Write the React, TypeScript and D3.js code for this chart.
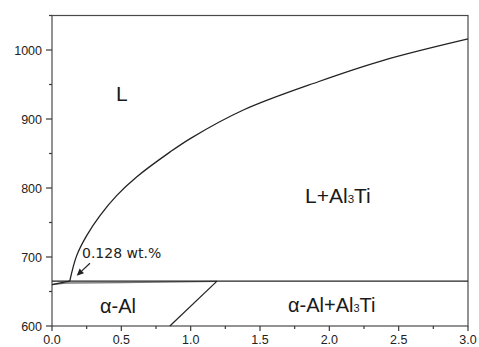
import React from "react";
import * as d3 from "d3";

// Al–Ti phase diagram, Al-rich corner (wt.% Ti vs temperature °C)
const liquidusX = [0.128, 0.178, 0.25, 0.346, 0.466, 0.61, 0.85, 1.0, 1.38, 1.92, 2.39, 3.0];
const liquidusT = [665, 702, 731, 760, 789, 816, 852, 872, 913, 954, 985, 1016];

const alLiquidusX = [0, 0.06, 0.128];
const alLiquidusT = [660, 662.5, 665];

const solidusX = [0, 0.1, 0.5, 1.19];
const solidusT = [660, 662.3, 662.8, 664.6];

const peritecticX = [0, 3.0];
const peritecticT = [665, 665];

const solvusX = [0.85, 1.19];
const solvusT = [600, 665];

const xTicks = [0, 0.5, 1.0, 1.5, 2.0, 2.5, 3.0];
const xMinor = [0.25, 0.75, 1.25, 1.75, 2.25, 2.75];
const yTicks = [600, 700, 800, 900, 1000];
const yMinor = [650, 750, 850, 950, 1050];

const W = 479;
const H = 347;
const left = 52;
const right = 468;
const top = 15.5;
const bottom = 326;

const x = d3.scaleLinear().domain([0, 3]).range([left, right]);
const y = d3.scaleLinear().domain([600, 1050]).range([bottom, top]);

const line = d3
  .line<[number, number]>()
  .x((d) => x(d[0]))
  .y((d) => y(d[1]));

const smooth = d3
  .line<[number, number]>()
  .x((d) => x(d[0]))
  .y((d) => y(d[1]))
  .curve(d3.curveCatmullRom.alpha(0.5));

const zip = (a: number[], b: number[]) => a.map((v, i) => [v, b[i]] as [number, number]);

const tickFont = "'Liberation Sans', Arial, sans-serif";
const axisColor = "#3a3a3a";

function PhaseLabel({ px, py, parts, size }: { px: number; py: number; parts: [string, boolean][]; size: number }) {
  return (
    <text x={px} y={py} fontFamily={tickFont} fontSize={size} fill="#1a1a1a">
      {parts.map(([t, sub], i) =>
        sub ? (
          <tspan key={i} fontSize={size * 0.55}>
            {t}
          </tspan>
        ) : (
          <tspan key={i}>{t}</tspan>
        )
      )}
    </text>
  );
}

export default function App() {
  // arrow from the annotation to the liquidus start
  const ax0 = x(0.274), ay0 = y(691);
  const ax1 = x(0.178), ay1 = y(673);
  const ang = Math.atan2(ay1 - ay0, ax1 - ax0);
  const hl = 7, hw = 3.2;
  const bx = ax1 - hl * Math.cos(ang), by = ay1 - hl * Math.sin(ang);
  const head = [
    [ax1, ay1],
    [bx + hw * Math.sin(ang), by - hw * Math.cos(ang)],
    [bx - hw * Math.sin(ang), by + hw * Math.cos(ang)],
  ]
    .map((p) => p.join(","))
    .join(" ");

  return (
    <svg
      width={W}
      height={H}
      style={{ position: "fixed", left: 0, top: 0, background: "#fff" }}
    >
      {/* frame */}
      <rect x={left} y={top} width={right - left} height={bottom - top} fill="none" stroke="#4a4a4a" strokeWidth={1.2} />

      {/* x axis ticks */}
      {xTicks.map((t) => (
        <g key={"xt" + t}>
          <line x1={x(t)} x2={x(t)} y1={bottom} y2={bottom + 5} stroke={axisColor} strokeWidth={1.2} />
          <text x={x(t)} y={bottom + 18} textAnchor="middle" fontFamily={tickFont} fontSize={12.5} fill="#222">
            {t.toFixed(1)}
          </text>
        </g>
      ))}
      {xMinor.map((t) => (
        <line key={"xm" + t} x1={x(t)} x2={x(t)} y1={bottom} y2={bottom + 3} stroke={axisColor} strokeWidth={1.2} />
      ))}

      {/* y axis ticks */}
      {yTicks.map((t) => (
        <g key={"yt" + t}>
          <line x1={left - 6} x2={left} y1={y(t)} y2={y(t)} stroke={axisColor} strokeWidth={1.2} />
          <text x={left - 10} y={y(t) + 4.5} textAnchor="end" fontFamily={tickFont} fontSize={12.5} fill="#222">
            {t}
          </text>
        </g>
      ))}
      {yMinor.map((t) => (
        <line key={"ym" + t} x1={left - 3} x2={left} y1={y(t)} y2={y(t)} stroke={axisColor} strokeWidth={1.2} />
      ))}

      {/* phase boundaries */}
      <path d={line(zip(solidusX, solidusT)) ?? ""} fill="none" stroke="#777" strokeWidth={1.3} />
      <path d={line(zip(peritecticX, peritecticT)) ?? ""} fill="none" stroke="#222" strokeWidth={1.3} />
      <path d={smooth(zip(alLiquidusX, alLiquidusT)) ?? ""} fill="none" stroke="#222" strokeWidth={1.2} />
      <path d={smooth(zip(liquidusX, liquidusT)) ?? ""} fill="none" stroke="#222" strokeWidth={1.3} />
      <path d={line(zip(solvusX, solvusT)) ?? ""} fill="none" stroke="#222" strokeWidth={1.2} />

      {/* annotation */}
      <line x1={ax0} y1={ay0} x2={bx} y2={by} stroke="#222" strokeWidth={1.2} />
      <polygon points={head} fill="#222" />
      <text x={82} y={258} fontFamily="'DejaVu Sans', Verdana, sans-serif" fontSize={14} fill="#222">
        0.128 wt.%
      </text>

      {/* phase field labels */}
      <PhaseLabel px={116} py={101} size={21} parts={[["L", false]]} />
      <PhaseLabel px={305} py={203} size={21} parts={[["L+Al", false], ["3", true], ["Ti", false]]} />
      <PhaseLabel px={100} py={312.5} size={20} parts={[["α-Al", false]]} />
      <PhaseLabel px={288} py={312} size={20} parts={[["α-Al+Al", false], ["3", true], ["Ti", false]]} />
    </svg>
  );
}
